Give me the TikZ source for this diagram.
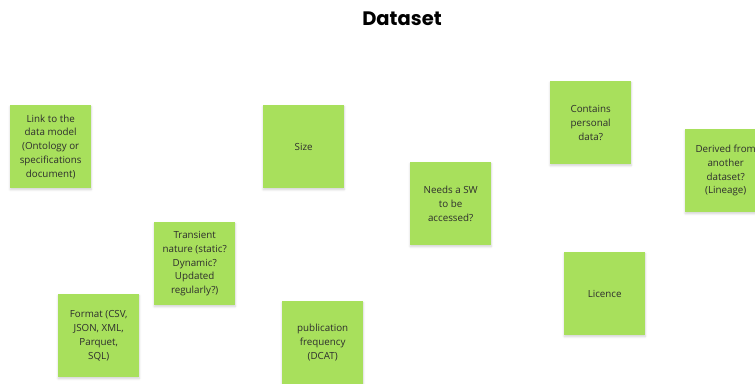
\documentclass[tikz,border=0pt]{standalone}
\usepackage{fontspec}
\setmainfont{Open Sans}
\newfontfamily\titlefont{Poppins}
\usetikzlibrary{shadows.blur}
\definecolor{sticky}{RGB}{168,224,92}
\definecolor{stickytext}{RGB}{45,45,45}
\tikzset{
  x=1pt, y=-1pt,
  note/.style={fill=sticky, draw=none, minimum width=81pt, minimum height=83pt,
    inner sep=0pt, align=center, font=\fontsize{9.8}{13.8}\selectfont,
    text=stickytext, anchor=north west,
    blur shadow={shadow xshift=0pt, shadow yshift=-1.5pt, shadow blur steps=6, shadow opacity=18}},
}
\begin{document}
\begin{tikzpicture}
\useasboundingbox (0,0) rectangle (755,383);
\clip (0,0) rectangle (755,383);
\node[font=\titlefont\bfseries\fontsize{19.5}{22}\selectfont] (title) at (402,19) {Dataset};
\node[note] (link) at (10,105) {Link to the\\data model\\(Ontology or\\specifications\\document)};
\node[note] (size) at (263,105) {Size};
\node[note] (trans) at (154,222) {Transient\\nature (static?\\Dynamic?\\Updated\\regularly?)};
\node[note] (format) at (58,294) {Format (CSV,\\JSON, XML,\\Parquet,\\SQL)};
\node[note] (pub) at (282,301) {publication\\frequency\\(DCAT)};
\node[note] (sw) at (410,162) {Needs a SW\\to be\\accessed?};
\node[note] (personal) at (550,81) {Contains\\personal\\data?};
\node[note] (licence) at (564,252) {Licence};
\node[note] (derived) at (685,129) {Derived from\\another\\dataset?\\(Lineage)};
\end{tikzpicture}
\end{document}
